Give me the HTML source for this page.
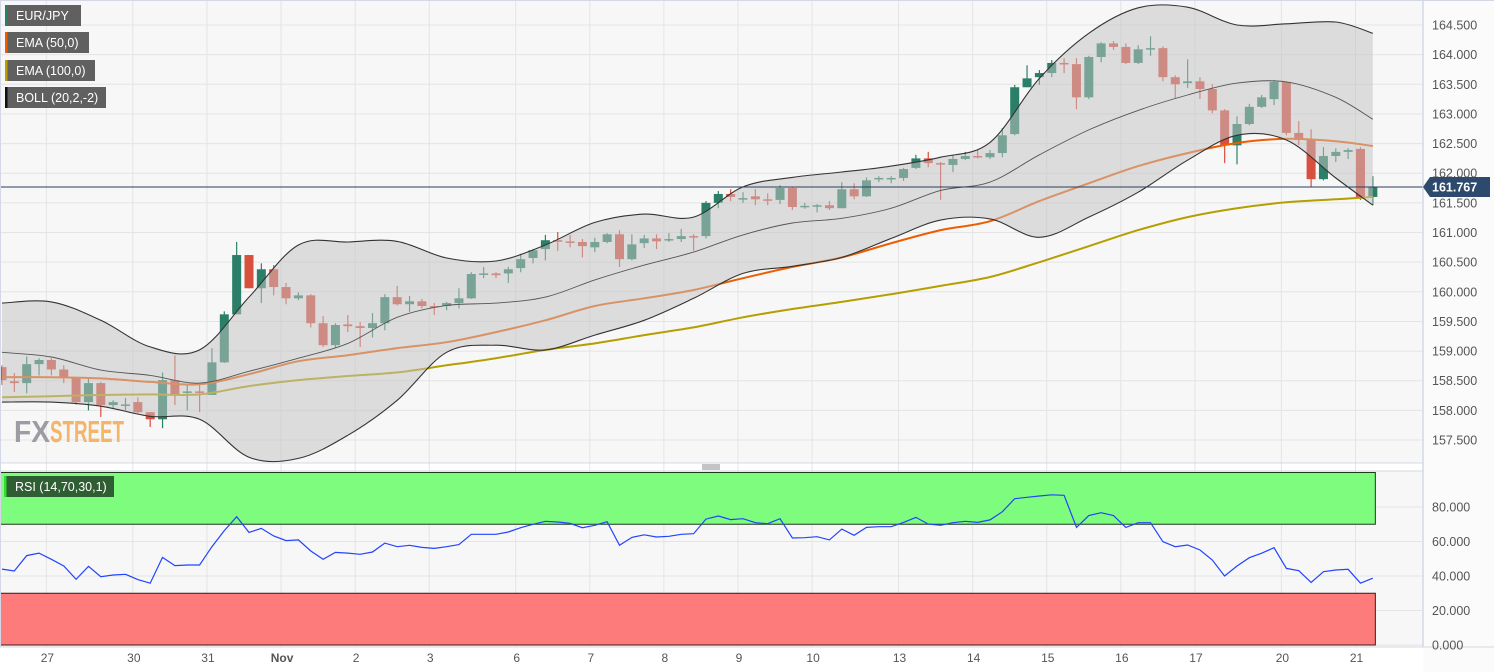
<!DOCTYPE html>
<html><head><meta charset="utf-8"><style>
html,body{margin:0;padding:0;background:#fff;}
svg{display:block;font-family:"Liberation Sans",sans-serif;}
</style></head><body>
<svg id="chart" width="1494" height="672" viewBox="0 0 1494 672" xmlns="http://www.w3.org/2000/svg">
<rect x="0" y="0" width="1423" height="463" fill="#f7f7f7"/>
<rect x="0" y="471" width="1423" height="176" fill="#f7f7f7"/>
<rect x="1423" y="0" width="71" height="672" fill="#fbfbfb"/>
<g id="grid"></g>
<g id="wm">
<text x="14" y="442" font-size="31" font-weight="bold" fill="#9c9ca4" textLength="36" lengthAdjust="spacingAndGlyphs">FX</text>
<text x="50" y="442" font-size="31" font-weight="bold" fill="#f2b56a" textLength="74" lengthAdjust="spacingAndGlyphs">STREET</text>
</g>
<g id="candles"></g>
<g id="emas"></g>
<g id="band"></g>
<g id="rsi"></g>
<g id="axes"></g>
<g id="legend"></g>
</svg>
<script>
const candleO=[158.73,158.49,158.46,158.78,158.85,158.69,158.54,158.14,158.46,158.09,158.09,158.14,157.97,157.85,158.51,158.31,158.32,158.26,158.81,159.62,160.62,160.06,160.38,160.08,159.89,159.94,159.47,159.10,159.45,159.42,159.39,159.47,159.91,159.79,159.84,159.76,159.76,159.81,159.89,160.30,160.31,160.31,160.40,160.57,160.72,160.87,160.85,160.84,160.75,160.84,160.97,160.55,160.82,160.90,160.87,160.89,160.94,160.94,161.50,161.65,161.56,161.61,161.56,161.55,161.75,161.43,161.45,161.46,161.41,161.73,161.61,161.90,161.90,161.92,162.09,162.25,162.17,162.14,162.24,162.29,162.27,162.34,162.66,163.45,163.62,163.69,163.86,163.84,163.28,163.96,164.19,164.13,163.86,164.09,164.11,163.62,163.52,163.55,163.42,163.06,162.47,162.83,163.12,163.25,163.54,162.68,162.56,161.90,162.29,162.36,162.41,161.60];
const candleH=[158.76,158.63,158.91,158.88,158.88,158.76,158.54,158.56,158.48,158.17,158.21,158.22,157.97,158.64,158.93,158.43,158.43,159.05,159.67,160.84,160.62,160.48,160.45,160.15,159.99,159.96,159.59,159.47,159.61,159.49,159.64,159.96,160.10,159.93,159.88,159.81,159.83,160.06,160.33,160.42,160.33,160.42,160.64,160.72,160.96,161.01,160.96,160.89,160.91,160.99,161.04,160.97,160.96,160.97,160.99,161.06,160.97,161.53,161.70,161.73,161.68,161.73,161.66,161.80,161.77,161.50,161.48,161.53,161.85,161.83,161.93,161.95,161.95,162.09,162.31,162.36,162.19,162.31,162.36,162.39,162.39,162.76,163.49,163.82,163.74,163.91,163.94,163.94,163.98,164.21,164.23,164.19,164.16,164.31,164.14,163.65,163.92,163.62,163.50,163.08,162.96,163.17,163.32,163.57,163.55,162.88,162.74,162.44,162.42,162.42,162.44,161.95];
const candleL=[158.43,158.31,158.29,158.59,158.59,158.46,158.10,158.00,157.89,158.04,158.00,157.95,157.72,157.70,158.09,158.00,157.97,158.26,158.80,159.62,160.06,159.81,159.94,159.79,159.86,159.40,159.07,159.05,159.32,159.07,159.23,159.35,159.77,159.66,159.72,159.61,159.69,159.72,159.88,160.23,160.23,160.15,160.33,160.48,160.53,160.69,160.75,160.58,160.67,160.82,160.42,160.53,160.74,160.72,160.84,160.84,160.69,160.90,161.41,161.53,161.50,161.46,161.46,161.48,161.38,161.40,161.34,161.38,161.41,161.56,161.60,161.85,161.83,161.87,162.07,162.10,161.55,162.02,162.22,162.25,162.24,162.27,162.64,163.45,163.49,163.62,163.69,163.08,163.25,163.87,164.08,163.84,163.84,163.98,163.55,163.27,163.44,163.25,163.01,162.17,162.15,162.81,163.10,163.15,162.64,162.47,161.77,161.88,162.19,162.24,161.55,161.46];
const candleC=[158.51,158.46,158.78,158.85,158.69,158.56,158.14,158.46,158.09,158.14,158.10,157.97,157.85,158.51,158.26,158.32,158.31,158.81,159.62,160.62,160.06,160.38,160.08,159.89,159.94,159.47,159.10,159.44,159.42,159.39,159.47,159.91,159.79,159.84,159.76,159.74,159.81,159.89,160.30,160.31,160.28,160.38,160.55,160.70,160.87,160.85,160.84,160.77,160.84,160.97,160.55,160.80,160.90,160.85,160.89,160.94,160.92,161.50,161.65,161.60,161.58,161.56,161.55,161.75,161.43,161.45,161.46,161.41,161.73,161.61,161.88,161.92,161.92,162.07,162.25,162.17,162.15,162.24,162.29,162.27,162.34,162.64,163.45,163.60,163.69,163.86,163.84,163.28,163.96,164.19,164.13,163.86,164.09,164.11,163.62,163.50,163.55,163.42,163.06,162.47,162.83,163.12,163.28,163.54,162.68,162.56,161.90,162.29,162.36,162.39,161.60,161.77];
const bandIdx=[0,4,8,12,16,20,24,28,32,36,40,44,48,52,56,60,64,68,72,76,80,84,88,92,96,100,104,108,111];
const bollUpper=[159.81,159.83,159.52,159.07,159.02,159.91,160.79,160.84,160.85,160.57,160.52,160.79,161.17,161.31,161.26,161.77,161.93,162.02,162.12,162.27,162.52,163.60,164.36,164.79,164.80,164.50,164.52,164.55,164.36];
const bollMid=[158.98,158.90,158.68,158.59,158.46,158.66,158.88,159.13,159.57,159.77,159.81,159.91,160.20,160.45,160.67,160.96,161.16,161.24,161.41,161.71,161.85,162.31,162.73,163.06,163.32,163.52,163.54,163.28,162.91];
const bollLower=[158.14,158.14,158.07,157.90,157.85,157.21,157.19,157.58,158.17,158.98,159.10,159.02,159.27,159.52,159.89,160.31,160.43,160.58,160.90,161.21,161.23,160.92,161.26,161.68,162.22,162.64,162.56,161.92,161.46];
const ema50=[158.56,158.56,158.54,158.48,158.44,158.61,158.83,158.93,159.05,159.15,159.32,159.52,159.76,159.89,160.03,160.23,160.42,160.58,160.82,161.04,161.19,161.53,161.83,162.12,162.34,162.51,162.58,162.54,162.46];
const ema100=[158.22,158.24,158.26,158.27,158.27,158.41,158.51,158.58,158.64,158.76,158.88,159.02,159.13,159.27,159.40,159.57,159.71,159.83,159.96,160.10,160.25,160.50,160.77,161.04,161.26,161.41,161.51,161.56,161.60];
const rsiValues=[44.0,42.9,51.8,53.3,49.7,45.8,38.1,45.6,39.6,40.6,41.0,37.9,35.8,50.8,46.0,46.4,46.4,57.0,66.3,74.4,65.3,67.6,63.2,60.5,60.9,54.5,49.7,53.7,53.3,52.6,53.9,59.1,57.0,57.8,56.6,56.0,57.0,58.2,64.2,64.2,64.2,65.5,68.0,70.0,71.7,71.3,70.5,68.0,69.4,71.5,57.8,62.4,63.9,62.6,63.0,64.2,64.5,73.0,74.8,72.7,73.2,70.9,70.3,73.2,62.0,62.2,62.8,60.9,67.2,63.6,68.2,68.6,68.6,71.1,74.0,70.1,69.4,70.9,71.7,71.1,72.5,77.3,84.8,85.6,86.4,87.1,86.8,68.2,75.0,76.7,75.0,68.2,70.9,70.9,59.9,57.0,58.0,55.1,49.3,40.0,45.8,50.6,53.2,56.4,44.4,43.1,36.3,42.5,43.5,43.9,35.8,38.7];
const priceTicks=[164.5,164.0,163.5,163.0,162.5,162.0,161.5,161.0,160.5,160.0,159.5,159.0,158.5,158.0,157.5];
const rsiTicks=[80,60,40,20,0];
const dayLabels=["27","30","31","Nov","2","3","6","7","8","9","10","13","14","15","16","17","20","21"];
const dayStartIdx=[4,11,17,23,29,35,42,48,54,60,66,73,79,85,91,97,104,110];
const lastPrice=161.767;

const NS="http://www.w3.org/2000/svg";
function mk(tag,attrs,parent){const e=document.createElementNS(NS,tag);for(const k in attrs)e.setAttribute(k,attrs[k]);parent.appendChild(e);return e;}
const xOf=i=>2+i*12.35;
const yOf=p=>25+(164.5-p)*59.29;
const ryOf=v=>645-v*1.725;
const g=id=>document.getElementById(id);

function ptList(arr){return arr.map((v,k)=>[xOf(bandIdx[k]),yOf(v)]);}
function smoothD(P,start){
 let d=(start?'M':'L')+P[0][0].toFixed(1)+','+P[0][1].toFixed(1);
 for(let i=0;i<P.length-1;i++){
  const p0=P[Math.max(0,i-1)],p1=P[i],p2=P[i+1],p3=P[Math.min(P.length-1,i+2)];
  const c1=[p1[0]+(p2[0]-p0[0])/6,p1[1]+(p2[1]-p0[1])/6];
  const c2=[p2[0]-(p3[0]-p1[0])/6,p2[1]-(p3[1]-p1[1])/6];
  d+=' C'+c1[0].toFixed(1)+','+c1[1].toFixed(1)+' '+c2[0].toFixed(1)+','+c2[1].toFixed(1)+' '+p2[0].toFixed(1)+','+p2[1].toFixed(1);
 }
 return d;
}

// grid
const grid=g('grid');
priceTicks.forEach(p=>{const l=mk('line',{x1:0,x2:1423,y1:yOf(p),y2:yOf(p),stroke:'#e4e4e4','stroke-width':1},grid);

});
rsiTicks.forEach(v=>{const l=mk('line',{x1:0,x2:1423,y1:ryOf(v),y2:ryOf(v),stroke:'#e4e4e4','stroke-width':1},grid);

});
dayStartIdx.forEach(i=>{const x=xOf(i)-5;
const l=mk('line',{x1:x,x2:x,y1:0,y2:647,stroke:'#e4e4e4','stroke-width':1},grid);

});

// candles
const cg=g('candles');
for(let i=0;i<candleO.length;i++){
 const up=candleC[i]>=candleO[i];const col=up?'#2b7f68':'#d84f3e';const x=xOf(i);
 const w=mk('line',{x1:x,x2:x,y1:yOf(candleH[i]),y2:yOf(candleL[i]),stroke:col,'stroke-width':1.2},cg);
 
 
 const t=yOf(Math.max(candleO[i],candleC[i])),b=yOf(Math.min(candleO[i],candleC[i]));
 const r=mk('rect',{x:x-4.5,y:t,width:9,height:Math.max(1.5,b-t),fill:col},cg);
 
 
}
const eg=g('emas');
const e1=mk('path',{d:smoothD(ptList(ema100),true),fill:'none',stroke:'#b59f00','stroke-width':2},eg);


const e2=mk('path',{d:smoothD(ptList(ema50),true),fill:'none',stroke:'#ee5c00','stroke-width':2},eg);



// band
const bg=g('band');
const upP=ptList(bollUpper),loP=ptList(bollLower);
const f=mk('path',{d:smoothD(upP,true)+' '+smoothD(loP.slice().reverse(),false)+' Z',fill:'rgba(196,196,196,0.52)'},bg);


const bu=mk('path',{d:smoothD(upP,true),fill:'none',stroke:'#333','stroke-width':1.1},bg);


const bm=mk('path',{d:smoothD(ptList(bollMid),true),fill:'none',stroke:'#555','stroke-width':0.9},bg);


const bl=mk('path',{d:smoothD(loP,true),fill:'none',stroke:'#333','stroke-width':1.1},bg);


const pl=mk('line',{x1:0,x2:1423,y1:yOf(lastPrice),y2:yOf(lastPrice),stroke:'#2c3e5c','stroke-width':1},bg);



// rsi
const rg=g('rsi');
const xEnd=xOf(candleO.length-1)+2;
const ob=mk('rect',{x:0.5,y:ryOf(100),width:xEnd,height:ryOf(70)-ryOf(100),fill:'#7dfc7d',stroke:'#1a3a1a','stroke-width':1},rg);


const os=mk('rect',{x:0.5,y:ryOf(30),width:xEnd,height:ryOf(0)-ryOf(30),fill:'#fd7b7b',stroke:'#3a1a1a','stroke-width':1},rg);


const rl=mk('polyline',{points:rsiValues.map((v,i)=>xOf(i).toFixed(1)+','+ryOf(v).toFixed(1)).join(' '),fill:'none',stroke:'#2244ff','stroke-width':1.2},rg);



// axes
const ag=g('axes');
mk('line',{x1:1423,x2:1423,y1:0,y2:647,stroke:'#d4d8e6','stroke-width':1.5},ag);
mk('line',{x1:0,x2:1494,y1:0.5,y2:0.5,stroke:'#d4d8e6','stroke-width':1},ag);
mk('line',{x1:0.5,x2:0.5,y1:0,y2:647,stroke:'#d4d8e6','stroke-width':1},ag);
mk('line',{x1:0,x2:1423,y1:463,y2:463,stroke:'#d4d8e6','stroke-width':1},ag);
mk('line',{x1:0,x2:1423,y1:471,y2:471,stroke:'#d4d8e6','stroke-width':1},ag);
mk('line',{x1:0,x2:1494,y1:647,y2:647,stroke:'#d4d8e6','stroke-width':1},ag);
[465,467,469].forEach(y=>mk('line',{x1:702,x2:720,y1:y,y2:y,stroke:'#888','stroke-width':1},ag));
priceTicks.forEach(p=>{const t=mk('text',{x:1432,y:yOf(p)+4.5,'font-size':12.5,fill:'#555'},ag);t.textContent=p.toFixed(3);

});
rsiTicks.forEach(v=>{const t=mk('text',{x:1432,y:ryOf(v)+4.5,'font-size':12.5,fill:'#555'},ag);t.textContent=v.toFixed(3);

});
dayLabels.forEach((d,k)=>{const t=mk('text',{x:xOf(dayStartIdx[k])-4,y:662,'font-size':12,fill:'#555','text-anchor':'middle','font-weight':d==='Nov'?'bold':'normal'},ag);t.textContent=d;

});
const ly=yOf(lastPrice);
const tag=mk('path',{d:`M1423,${ly} L1430,${ly-10} L1490,${ly-10} L1490,${ly+10} L1430,${ly+10} Z`,fill:'#2d4a6e'},ag);


const tt=mk('text',{x:1432,y:ly+4.5,'font-size':12.5,'font-weight':'bold',fill:'#fff'},ag);tt.textContent=lastPrice.toFixed(3);



// legend
const lg=g('legend');
const legItems=[["EUR/JPY","#2b7f68",76,5],["EMA (50,0)","#ee5c00",84,32],["EMA (100,0)","#b5a000",90,60],["BOLL (20,2,-2)","#111",101,87]];
legItems.forEach(it=>{const gg=mk('g',{},lg);


mk('rect',{x:5,y:it[3],width:it[2],height:21,fill:'#606060'},gg);
mk('rect',{x:5,y:it[3],width:2.5,height:21,fill:it[1]},gg);
const t=mk('text',{x:16,y:it[3]+15,'font-size':12.5,fill:'#fff'},gg);t.textContent=it[0];});
const rgL=mk('g',{},lg);


mk('rect',{x:4,y:476,width:110,height:21,fill:'#2f5e32'},rgL);
mk('rect',{x:4,y:476,width:2.5,height:21,fill:'#33dd33'},rgL);
const rt=mk('text',{x:15,y:491,'font-size':12.5,fill:'#fff'},rgL);rt.textContent="RSI (14,70,30,1)";
</script>
</body></html>
